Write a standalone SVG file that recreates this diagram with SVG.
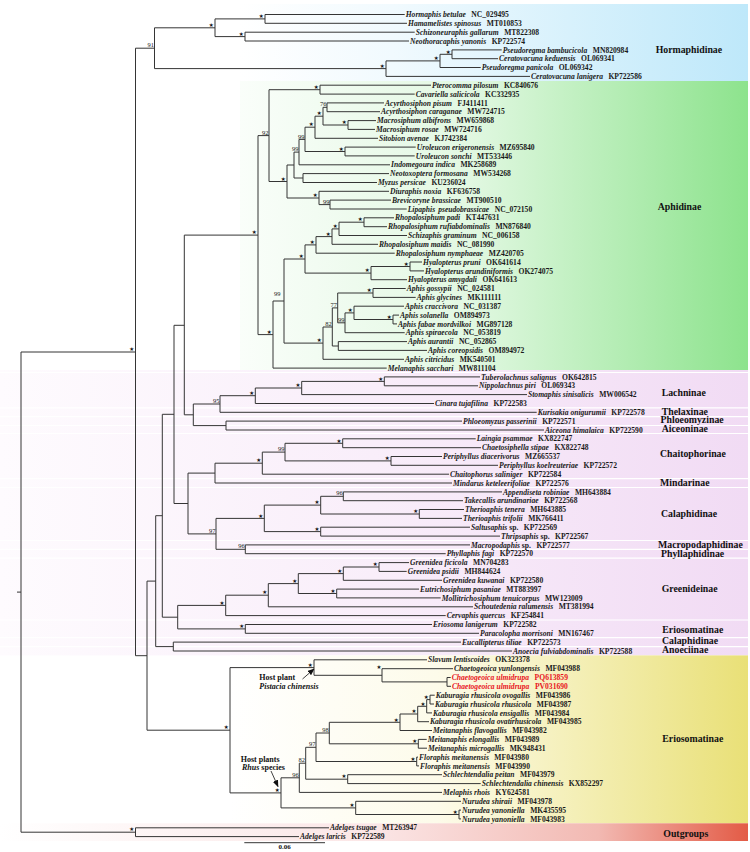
<svg xmlns="http://www.w3.org/2000/svg" width="750" height="852" viewBox="0 0 750 852">
<style>
.br{fill:none;stroke:#353535;stroke-width:1}
.lf{font-family:"Liberation Serif","Times New Roman",serif;font-size:7.6px;font-weight:bold;fill:#1a1a1a}
.sp{font-style:italic}
.red{fill:#e8141c}
.st{font-family:"DejaVu Sans",sans-serif;font-size:5.5px;fill:#111;text-anchor:middle}
.bs{font-family:"Liberation Serif","Times New Roman",serif;font-size:6.5px;fill:#222;text-anchor:end}
.sf{font-family:"Liberation Serif","Times New Roman",serif;font-size:9.8px;font-weight:bold;fill:#111}
.sep{stroke:#ffffff;stroke-width:1.2}
.an{font-family:"Liberation Serif","Times New Roman",serif;font-size:8px;font-weight:bold;fill:#111}
.ar{stroke:#111;stroke-width:0.8;fill:none}
</style>
<defs>
<linearGradient id="gBlue" gradientUnits="userSpaceOnUse" x1="240" y1="0" x2="748" y2="0">
<stop offset="0" stop-color="#ffffff"/><stop offset="0.3" stop-color="#f1fafe"/><stop offset="1" stop-color="#bee8fa"/>
</linearGradient>
<linearGradient id="gGreen" gradientUnits="userSpaceOnUse" x1="240" y1="0" x2="748" y2="0">
<stop offset="0" stop-color="#fafefa"/><stop offset="0.45" stop-color="#e2f8e2"/><stop offset="1" stop-color="#8de38d"/>
</linearGradient>
<linearGradient id="gPink" gradientUnits="userSpaceOnUse" x1="0" y1="0" x2="748" y2="0">
<stop offset="0" stop-color="#fefbfe"/><stop offset="0.5" stop-color="#f9eefa"/><stop offset="1" stop-color="#f1dbf4"/>
</linearGradient>
<linearGradient id="gYellow" gradientUnits="userSpaceOnUse" x1="230" y1="0" x2="748" y2="0">
<stop offset="0" stop-color="#ffffff"/><stop offset="0.4" stop-color="#fdfbea"/><stop offset="1" stop-color="#e9e077"/>
</linearGradient>
<linearGradient id="gRed" gradientUnits="userSpaceOnUse" x1="0" y1="0" x2="748" y2="0">
<stop offset="0" stop-color="#ffffff"/><stop offset="0.5" stop-color="#fbe6e6"/><stop offset="0.8" stop-color="#f2b9b2"/><stop offset="1" stop-color="#e35b46"/>
</linearGradient>
<marker id="ah" viewBox="0 0 10 8" refX="9" refY="4" markerWidth="7" markerHeight="5.6" markerUnits="userSpaceOnUse" orient="auto">
<path d="M0,0L10,4L0,8Z" fill="#111"/>
</marker>
</defs>
<rect width="750" height="852" fill="#ffffff"/>

<!-- subfamily bands -->
<g id="bands">
<rect x="240" y="4" width="508" height="77" fill="url(#gBlue)"/>
<rect x="240" y="81" width="508" height="289" fill="url(#gGreen)"/>
<rect x="0" y="370" width="748" height="285.4" fill="url(#gPink)"/>
<rect x="230" y="655.4" width="518" height="167.9" fill="url(#gYellow)"/>
<rect x="0" y="823.3" width="748" height="17.7" fill="url(#gRed)"/>
<path class="sep" d="M0,372.5H748 M0,407.9H748 M0,416.7H748 M0,425.5H748 M0,433.5H748 M0,478.6H748 M0,487.5H748 M0,540.5H748 M0,549.3H748 M0,558.2H748 M0,620H748 M0,637.7H748 M0,646.6H748"/>
</g>

<!-- branches -->
<g id="connectors">
<path class="br" d="M17,592.1H21 M21,352V832.2 M21,352H135.5 M21,832.2H135.5
M135.5,827.8V836.6 M135.5,827.8H329 M135.5,836.6H299
M135.5,48.2V655.7 M135.5,48.2H154.5 M135.5,655.7H147"/>
<path class="br" d="M154.5,27.8V68.6 M154.5,27.8H215 M154.5,68.6H386
M215,18.9V36.6 M215,18.9H265 M215,36.6H245
M265,14.5V23.3 M265,14.5H404.7 M265,23.3H407
M245,32.2V41 M245,32.2H414.7 M245,41H409
M386,60.9V76.4 M386,60.9H440 M386,76.4H530
M440,54.3V67.5 M440,54.3H452 M440,67.5H480.7
M452,49.9V58.7 M452,49.9H501.7 M452,58.7H498"/>
<path class="br" d="M147,581.1V730.2 M147,581.1H155.7 M147,730.2H230
M155.7,515.7V646.6 M155.7,515.7H162.3 M155.7,646.6H173.3
M173.3,642.1V651 M173.3,642.1H461 M173.3,651H512
M162.3,414.3V617.2 M162.3,414.3H174 M162.3,617.2H177.7
M174,325.3V503.5 M174,325.3H184.3 M174,503.5H188
M184.3,235.1V414.8 M184.3,235.1H258 M184.3,414.8H193.3"/>
<path class="br" d="M258,135.6V334.6 M258,135.6H269 M258,334.6H273
M269,89.7V181.5 M269,89.7H320 M269,181.5H287
M320,85.2V94.1 M320,85.2H431 M320,94.1H414.7
M287,165V198 M287,165H294 M287,198H319
M294,152.1V178 M294,152.1H299 M294,178H303
M299,139.4V164.8 M299,139.4H305 M299,164.8H390
M305,127.2V151.5 M305,127.2H315 M305,151.5H345
M315,116.2V138.3 M315,116.2H323 M315,138.3H378
M323,107.3V125 M323,107.3H327 M323,125H348
M327,102.9V111.7 M327,102.9H384 M327,111.7H380
M348,120.6V129.4 M348,120.6H376 M348,129.4H375
M345,147.1V155.9 M345,147.1H415.7 M345,155.9H414.7
M303,173.6V182.5 M303,173.6H389 M303,182.5H377
M319,191.3V204.6 M319,191.3H389 M319,204.6H330
M330,200.1V209 M330,200.1H391 M330,209H406.7"/>
<path class="br" d="M273,301V368.1 M273,301H284 M273,368.1H386.7
M284,259V343.1 M284,259H305 M284,343.1H323
M305,244.9V273.1 M305,244.9H316 M305,273.1H371
M316,236.6V253.2 M316,236.6H332 M316,253.2H394.7
M332,228.9V244.3 M332,228.9H339 M332,244.3H378
M339,222.2V235.5 M339,222.2H364 M339,235.5H407
M364,217.8V226.7 M364,217.8H394 M364,226.7H387
M371,266.5V279.7 M371,266.5H410 M371,279.7H407
M410,262V270.9 M410,262H422 M410,270.9H424
M323,327V359.3 M323,327H332.3 M323,359.3H404
M332.3,307.9V346 M332.3,307.9H337.7 M332.3,346H338.3
M338.3,341.6V350.4 M338.3,341.6H407 M338.3,350.4H427
M337.7,293V322.8 M337.7,293H373 M337.7,322.8H345
M373,288.5V297.4 M373,288.5H405.7 M373,297.4H415.7
M345,312.9V332.7 M345,312.9H354 M345,332.7H404.7
M354,306.2V319.5 M354,306.2H404 M354,319.5H393
M393,315.1V323.9 M393,315.1H399 M393,323.9H397"/>
<path class="br" d="M193.3,404V425.6 M193.3,404H220 M193.3,425.6H226
M220,395.7V412.3 M220,395.7H255.3 M220,412.3H536.7
M255.3,388V403.5 M255.3,388H301.7 M255.3,403.5H434
M301.7,381.4V394.6 M301.7,381.4H384.3 M301.7,394.6H527
M384.3,376.9V385.8 M384.3,376.9H480 M384.3,385.8H478
M226,421.1V430 M226,421.1H462 M226,430H544"/>
<path class="br" d="M188,473.1V533.9 M188,473.1H215 M188,533.9H216
M215,463.2V483 M215,463.2H262.3 M215,483H452
M262.3,452.1V474.2 M262.3,452.1H285 M262.3,474.2H449
M285,443.3V460.9 M285,443.3H342.7 M285,460.9H391
M342.7,438.8V447.7 M342.7,438.8H475.7 M342.7,447.7H481
M391,456.5V465.3 M391,456.5H442 M391,465.3H498
M216,518.4V549.3 M216,518.4H264.3 M216,549.3H245.3
M264.3,505.1V531.6 M264.3,505.1H320.7 M264.3,531.6H320.7
M320.7,496.3V514 M320.7,496.3H343.3 M320.7,514H419.3
M343.3,491.9V500.7 M343.3,491.9H502 M343.3,500.7H463
M419.3,509.5V518.4 M419.3,509.5H464 M419.3,518.4H462
M320.7,527.2V536.1 M320.7,527.2H470 M320.7,536.1H500
M245.3,544.9V553.7 M245.3,544.9H470 M245.3,553.7H445.7"/>
<path class="br" d="M177.7,605.4V628.9 M177.7,605.4H225.7 M177.7,628.9H245.3
M225.7,595.2V615.6 M225.7,595.2H268.3 M225.7,615.6H445.7
M268.3,583.6V606.8 M268.3,583.6H298.3 M268.3,606.8H473
M298.3,573.6V593.5 M298.3,573.6H343.3 M298.3,593.5H336.7
M343.3,567V580.3 M343.3,567H379 M343.3,580.3H442
M379,562.6V571.4 M379,562.6H409 M379,571.4H406.7
M336.7,589.1V597.9 M336.7,589.1H419 M336.7,597.9H440.7
M245.3,624.5V633.3 M245.3,624.5H432 M245.3,633.3H479"/>
<path class="br" d="M230,667.6V792.9 M230,667.6H314 M230,792.9H281
M314,659.8V675.3 M314,659.8H427 M314,675.3H382
M382,668.7V681.9 M382,668.7H453 M382,681.9H447
M447,677.5V686.3 M447,677.5H450.7 M447,686.3H451
M281,777.8V807.9 M281,777.8H299.3 M281,807.9H355.7
M299.3,763.2V792.4 M299.3,763.2H305.7 M299.3,792.4H442
M305.7,747.3V779.2 M305.7,747.3H316 M305.7,779.2H347.7
M316,733V761.5 M316,733H329.3 M316,761.5H416.7
M329.3,722.3V743.8 M329.3,722.3H400 M329.3,743.8H418.3
M400,714V730.5 M400,714H417.7 M400,730.5H432
M417.7,706.3V721.7 M417.7,706.3H426.7 M417.7,721.7H429
M426.7,699.6V712.9 M426.7,699.6H430 M426.7,712.9H432
M430,695.2V704 M430,695.2H434.7 M430,704H434
M418.3,739.4V748.2 M418.3,739.4H426.7 M418.3,748.2H427
M416.7,757.1V765.9 M416.7,757.1H418 M416.7,765.9H419
M347.7,774.7V783.6 M347.7,774.7H442 M347.7,783.6H480.7
M355.7,801.3V814.5 M355.7,801.3H461 M355.7,814.5H459
M459,810.1V818.9 M459,810.1H461 M459,818.9H461"/>
</g>

<!-- support values: stars = 100 -->
<g id="supports">
<text class="st" x="211.3" y="27">★</text>
<text class="st" x="261.3" y="18.1">★</text>
<text class="st" x="241.3" y="35.8">★</text>
<text class="st" x="382.3" y="67.8">★</text>
<text class="st" x="436.3" y="60.1">★</text>
<text class="st" x="448.3" y="53.5">★</text>
<text class="st" x="131.8" y="351.2">★</text>
<text class="st" x="131.8" y="831.4">★</text>
<text class="st" x="316.3" y="88.9">★</text>
<text class="st" x="344.3" y="124.2">★</text>
<text class="st" x="319.3" y="115.4">★</text>
<text class="st" x="311.3" y="126.4">★</text>
<text class="st" x="341.3" y="150.7">★</text>
<text class="st" x="315.3" y="197.2">★</text>
<text class="st" x="283.3" y="180.7">★</text>
<text class="st" x="254.3" y="234.3">★</text>
<text class="st" x="360.3" y="221.4">★</text>
<text class="st" x="335.3" y="228.1">★</text>
<text class="st" x="328.3" y="235.8">★</text>
<text class="st" x="312.3" y="244.1">★</text>
<text class="st" x="406.3" y="265.7">★</text>
<text class="st" x="367.3" y="272.3">★</text>
<text class="st" x="301.3" y="258.2">★</text>
<text class="st" x="369.3" y="292.2">★</text>
<text class="st" x="350.3" y="312.1">★</text>
<text class="st" x="389.3" y="318.7">★</text>
<text class="st" x="319.3" y="342.3">★</text>
<text class="st" x="269.3" y="333.8">★</text>
<text class="st" x="380.6" y="380.6">★</text>
<text class="st" x="298" y="387.2">★</text>
<text class="st" x="251.6" y="394.9">★</text>
<text class="st" x="339" y="442.5">★</text>
<text class="st" x="387.3" y="460.1">★</text>
<text class="st" x="258.6" y="462.4">★</text>
<text class="st" x="317" y="504.3">★</text>
<text class="st" x="415.6" y="513.2">★</text>
<text class="st" x="260.6" y="517.6">★</text>
<text class="st" x="317" y="530.8">★</text>
<text class="st" x="375.3" y="566.2">★</text>
<text class="st" x="339.6" y="572.8">★</text>
<text class="st" x="333" y="592.7">★</text>
<text class="st" x="294.6" y="582.8">★</text>
<text class="st" x="264.6" y="594.4">★</text>
<text class="st" x="222" y="604.6">★</text>
<text class="st" x="241.6" y="628.1">★</text>
<text class="st" x="226.3" y="729.4">★</text>
<text class="st" x="310.3" y="666.8">★</text>
<text class="st" x="379" y="669">★</text>
<text class="st" x="426.3" y="698.8">★</text>
<text class="st" x="423" y="705.5">★</text>
<text class="st" x="414" y="713.2">★</text>
<text class="st" x="396.3" y="721.5">★</text>
<text class="st" x="414.6" y="743">★</text>
<text class="st" x="413" y="760.7">★</text>
<text class="st" x="344" y="778.4">★</text>
<text class="st" x="277.3" y="792.1">★</text>
<text class="st" x="352" y="807.1">★</text>
<text class="st" x="455.3" y="813.7">★</text>
<text class="bs" x="153.9" y="47.3">91</text>
<text class="bs" x="326.4" y="106.4">76</text>
<text class="bs" x="304.4" y="138.5">99</text>
<text class="bs" x="298.4" y="151.2">99</text>
<text class="bs" x="329.4" y="203.7">99</text>
<text class="bs" x="268.4" y="134.7">92</text>
<text class="bs" x="280.6" y="295.5">99</text>
<text class="bs" x="337.1" y="307">77</text>
<text class="bs" x="344.4" y="321.9">99</text>
<text class="bs" x="331.7" y="326.1">82</text>
<text class="bs" x="219.4" y="403.1">95</text>
<text class="bs" x="284.4" y="451.2">99</text>
<text class="bs" x="342.7" y="495.4">96</text>
<text class="bs" x="215.4" y="533">97</text>
<text class="bs" x="244.7" y="548.4">96</text>
<text class="bs" x="328.7" y="732.1">98</text>
<text class="bs" x="315.4" y="746.4">97</text>
<text class="bs" x="305.1" y="762.3">82</text>
<text class="bs" x="298.7" y="776.9">96</text>
</g>

<!-- terminal taxa -->
<g id="tip-hormaphis-betulae"><text class="lf" x="405.7" y="17.1"><tspan class="sp">Hormaphis betulae</tspan><tspan dx="5.5">NC_029495</tspan></text></g>
<g id="tip-hamamelistes-spinosus"><text class="lf" x="408" y="25.9"><tspan class="sp">Hamamelistes spinosus</tspan><tspan dx="5.5">MT010853</tspan></text></g>
<g id="tip-schizoneuraphis-gallarum"><text class="lf" x="415.7" y="34.8"><tspan class="sp">Schizoneuraphis gallarum</tspan><tspan dx="5.5">MT822308</tspan></text></g>
<g id="tip-neothoracaphis-yanonis"><text class="lf" x="410" y="43.6"><tspan class="sp">Neothoracaphis yanonis</tspan><tspan dx="5.5">KP722574</tspan></text></g>
<g id="tip-pseudoregma-bambucicola"><text class="lf" x="502.7" y="52.5"><tspan class="sp">Pseudoregma bambucicola</tspan><tspan dx="5.5">MN820984</tspan></text></g>
<g id="tip-ceratovacuna-keduensis"><text class="lf" x="499" y="61.3"><tspan class="sp">Ceratovacuna keduensis</tspan><tspan dx="5.5">OL069341</tspan></text></g>
<g id="tip-pseudoregma-panicola"><text class="lf" x="481.7" y="70.1"><tspan class="sp">Pseudoregma panicola</tspan><tspan dx="5.5">OL069342</tspan></text></g>
<g id="tip-ceratovacuna-lanigera"><text class="lf" x="531" y="79"><tspan class="sp">Ceratovacuna lanigera</tspan><tspan dx="5.5">KP722586</tspan></text></g>
<g id="tip-pterocomma-pilosum"><text class="lf" x="432" y="87.8"><tspan class="sp">Pterocomma pilosum</tspan><tspan dx="5.5">KC840676</tspan></text></g>
<g id="tip-cavariella-salicicola"><text class="lf" x="415.7" y="96.7"><tspan class="sp">Cavariella salicicola</tspan><tspan dx="5.5">KC332935</tspan></text></g>
<g id="tip-acyrthosiphon-pisum"><text class="lf" x="385" y="105.5"><tspan class="sp">Acyrthosiphon pisum</tspan><tspan dx="5.5">FJ411411</tspan></text></g>
<g id="tip-acyrthosiphon-caraganae"><text class="lf" x="381" y="114.3"><tspan class="sp">Acyrthosiphon caraganae</tspan><tspan dx="5.5">MW724715</tspan></text></g>
<g id="tip-macrosiphum-albifrons"><text class="lf" x="377" y="123.2"><tspan class="sp">Macrosiphum albifrons</tspan><tspan dx="5.5">MW659868</tspan></text></g>
<g id="tip-macrosiphum-rosae"><text class="lf" x="376" y="132"><tspan class="sp">Macrosiphum rosae</tspan><tspan dx="5.5">MW724716</tspan></text></g>
<g id="tip-sitobion-avenae"><text class="lf" x="379" y="140.9"><tspan class="sp">Sitobion avenae</tspan><tspan dx="5.5">KJ742384</tspan></text></g>
<g id="tip-uroleucon-erigeronensis"><text class="lf" x="416.7" y="149.7"><tspan class="sp">Uroleucon erigeronensis</tspan><tspan dx="5.5">MZ695840</tspan></text></g>
<g id="tip-uroleucon-sonchi"><text class="lf" x="415.7" y="158.5"><tspan class="sp">Uroleucon sonchi</tspan><tspan dx="5.5">MT533446</tspan></text></g>
<g id="tip-indomegoura-indica"><text class="lf" x="391" y="167.4"><tspan class="sp">Indomegoura indica</tspan><tspan dx="5.5">MK258689</tspan></text></g>
<g id="tip-neotoxoptera-formosana"><text class="lf" x="390" y="176.2"><tspan class="sp">Neotoxoptera formosana</tspan><tspan dx="5.5">MW534268</tspan></text></g>
<g id="tip-myzus-persicae"><text class="lf" x="378" y="185.1"><tspan class="sp">Myzus persicae</tspan><tspan dx="5.5">KU236024</tspan></text></g>
<g id="tip-diuraphis-noxia"><text class="lf" x="390" y="193.9"><tspan class="sp">Diuraphis noxia</tspan><tspan dx="5.5">KF636758</tspan></text></g>
<g id="tip-brevicoryne-brassicae"><text class="lf" x="392" y="202.7"><tspan class="sp">Brevicoryne brassicae</tspan><tspan dx="5.5">MT900510</tspan></text></g>
<g id="tip-lipaphis-pseudobrassicae"><text class="lf" x="407.7" y="211.6"><tspan class="sp">Lipaphis</tspan><tspan class="sp" dx="3">pseudobrassicae</tspan><tspan dx="5.5">NC_072150</tspan></text></g>
<g id="tip-rhopalosiphum-padi"><text class="lf" x="395" y="220.4"><tspan class="sp">Rhopalosiphum padi</tspan><tspan dx="5.5">KT447631</tspan></text></g>
<g id="tip-rhopalosiphum-rufiabdominalis"><text class="lf" x="388" y="229.3"><tspan class="sp">Rhopalosiphum rufiabdominalis</tspan><tspan dx="5.5">MN876840</tspan></text></g>
<g id="tip-schizaphis-graminum"><text class="lf" x="408" y="238.1"><tspan class="sp">Schizaphis graminum</tspan><tspan dx="5.5">NC_006158</tspan></text></g>
<g id="tip-rhopalosiphum-maidis"><text class="lf" x="379" y="246.9"><tspan class="sp">Rhopalosiphum maidis</tspan><tspan dx="5.5">NC_081990</tspan></text></g>
<g id="tip-rhopalosiphum-nymphaeae"><text class="lf" x="395.7" y="255.8"><tspan class="sp">Rhopalosiphum nymphaeae</tspan><tspan dx="5.5">MZ420705</tspan></text></g>
<g id="tip-hyalopterus-pruni"><text class="lf" x="423" y="264.6"><tspan class="sp">Hyalopterus pruni</tspan><tspan dx="5.5">OK641614</tspan></text></g>
<g id="tip-hyalopterus-arundiniformis"><text class="lf" x="425" y="273.5"><tspan class="sp">Hyalopterus arundiniformis</tspan><tspan dx="5.5">OK274075</tspan></text></g>
<g id="tip-hyalopterus-amygdali"><text class="lf" x="408" y="282.3"><tspan class="sp">Hyalopterus amygdali</tspan><tspan dx="5.5">OK641613</tspan></text></g>
<g id="tip-aphis-gossypii"><text class="lf" x="406.7" y="291.1"><tspan class="sp">Aphis gossypii</tspan><tspan dx="5.5">NC_024581</tspan></text></g>
<g id="tip-aphis-glycines"><text class="lf" x="416.7" y="300"><tspan class="sp">Aphis glycines</tspan><tspan dx="5.5">MK111111</tspan></text></g>
<g id="tip-aphis-craccivora"><text class="lf" x="405" y="308.8"><tspan class="sp">Aphis craccivora</tspan><tspan dx="5.5">NC_031387</tspan></text></g>
<g id="tip-aphis-solanella"><text class="lf" x="400" y="317.7"><tspan class="sp">Aphis solanella</tspan><tspan dx="5.5">OM894973</tspan></text></g>
<g id="tip-aphis-fabae-mordvilkoi"><text class="lf" x="398" y="326.5"><tspan class="sp">Aphis fabae mordvilkoi</tspan><tspan dx="5.5">MG897128</tspan></text></g>
<g id="tip-aphis-spiraecola"><text class="lf" x="405.7" y="335.3"><tspan class="sp">Aphis spiraecola</tspan><tspan dx="5.5">NC_053819</tspan></text></g>
<g id="tip-aphis-aurantii"><text class="lf" x="408" y="344.2"><tspan class="sp">Aphis aurantii</tspan><tspan dx="5.5">NC_052865</tspan></text></g>
<g id="tip-aphis-coreopsidis"><text class="lf" x="428" y="353"><tspan class="sp">Aphis coreopsidis</tspan><tspan dx="5.5">OM894972</tspan></text></g>
<g id="tip-aphis-citricidus"><text class="lf" x="405" y="361.9"><tspan class="sp">Aphis citricidus</tspan><tspan dx="5.5">MK540501</tspan></text></g>
<g id="tip-melanaphis-sacchari"><text class="lf" x="387.7" y="370.7"><tspan class="sp">Melanaphis sacchari</tspan><tspan dx="5.5">MW811104</tspan></text></g>
<g id="tip-tuberolachnus-salignus"><text class="lf" x="481" y="379.5"><tspan class="sp">Tuberolachnus salignus</tspan><tspan dx="5.5">OK642815</tspan></text></g>
<g id="tip-nippolachnus-piri"><text class="lf" x="479" y="388.4"><tspan class="sp">Nippolachnus piri</tspan><tspan dx="5.5">OL069343</tspan></text></g>
<g id="tip-stomaphis-sinisalicis"><text class="lf" x="528" y="397.2"><tspan class="sp">Stomaphis sinisalicis</tspan><tspan dx="5.5">MW006542</tspan></text></g>
<g id="tip-cinara-tujafilina"><text class="lf" x="435" y="406.1"><tspan class="sp">Cinara tujafilina</tspan><tspan dx="5.5">KP722583</tspan></text></g>
<g id="tip-kurisakia-onigurumii"><text class="lf" x="537.7" y="414.9"><tspan class="sp">Kurisakia onigurumii</tspan><tspan dx="5.5">KP722578</tspan></text></g>
<g id="tip-phloeomyzus-passerinii"><text class="lf" x="463" y="423.7"><tspan class="sp">Phloeomyzus passerinii</tspan><tspan dx="5.5">KP722571</tspan></text></g>
<g id="tip-aiceona-himalaica"><text class="lf" x="545" y="432.6"><tspan class="sp">Aiceona himalaica</tspan><tspan dx="5.5">KP722590</tspan></text></g>
<g id="tip-laingia-psammae"><text class="lf" x="476.7" y="441.4"><tspan class="sp">Laingia psammae</tspan><tspan dx="5.5">KX822747</tspan></text></g>
<g id="tip-chaetosiphella-stipae"><text class="lf" x="482" y="450.3"><tspan class="sp">Chaetosiphella stipae</tspan><tspan dx="5.5">KX822748</tspan></text></g>
<g id="tip-periphyllus-diacerivorus"><text class="lf" x="443" y="459.1"><tspan class="sp">Periphyllus diacerivorus</tspan><tspan dx="5.5">MZ665537</tspan></text></g>
<g id="tip-periphyllus-koelreuteriae"><text class="lf" x="499" y="467.9"><tspan class="sp">Periphyllus koelreuteriae</tspan><tspan dx="5.5">KP722572</tspan></text></g>
<g id="tip-chaitophorus-saliniger"><text class="lf" x="450" y="476.8"><tspan class="sp">Chaitophorus saliniger</tspan><tspan dx="5.5">KP722584</tspan></text></g>
<g id="tip-mindarus-keteleerifoliae"><text class="lf" x="453" y="485.6"><tspan class="sp">Mindarus keteleerifoliae</tspan><tspan dx="5.5">KP722576</tspan></text></g>
<g id="tip-appendiseta-robiniae"><text class="lf" x="503" y="494.5"><tspan class="sp">Appendiseta robiniae</tspan><tspan dx="5.5">MH643884</tspan></text></g>
<g id="tip-takecallis-arundinariae"><text class="lf" x="464" y="503.3"><tspan class="sp">Takecallis arundinariae</tspan><tspan dx="5.5">KP722568</tspan></text></g>
<g id="tip-therioaphis-tenera"><text class="lf" x="465" y="512.1"><tspan class="sp">Therioaphis tenera</tspan><tspan dx="5.5">MH643885</tspan></text></g>
<g id="tip-therioaphis-trifolii"><text class="lf" x="463" y="521"><tspan class="sp">Therioaphis trifolii</tspan><tspan dx="5.5">MK766411</tspan></text></g>
<g id="tip-saltusaphis-sp"><text class="lf" x="471" y="529.8"><tspan class="sp">Saltusaphis</tspan> sp.<tspan dx="5.5">KP722569</tspan></text></g>
<g id="tip-thripsaphis-sp"><text class="lf" x="501" y="538.7"><tspan class="sp">Thripsaphis</tspan> sp.<tspan dx="5.5">KP722567</tspan></text></g>
<g id="tip-macropodaphis-sp"><text class="lf" x="471" y="547.5"><tspan class="sp">Macropodaphis</tspan> sp.<tspan dx="5.5">KP722577</tspan></text></g>
<g id="tip-phyllaphis-fagi"><text class="lf" x="446.7" y="556.3"><tspan class="sp">Phyllaphis fagi</tspan><tspan dx="5.5">KP722570</tspan></text></g>
<g id="tip-greenidea-ficicola"><text class="lf" x="410" y="565.2"><tspan class="sp">Greenidea ficicola</tspan><tspan dx="5.5">MN704283</tspan></text></g>
<g id="tip-greenidea-psidii"><text class="lf" x="407.7" y="574"><tspan class="sp">Greenidea psidii</tspan><tspan dx="5.5">MH844624</tspan></text></g>
<g id="tip-greenidea-kuwanai"><text class="lf" x="443" y="582.9"><tspan class="sp">Greenidea kuwanai</tspan><tspan dx="5.5">KP722580</tspan></text></g>
<g id="tip-eutrichosiphum-pasaniae"><text class="lf" x="420" y="591.7"><tspan class="sp">Eutrichosiphum pasaniae</tspan><tspan dx="5.5">MT883997</tspan></text></g>
<g id="tip-mollitrichosiphum-tenuicorpus"><text class="lf" x="441.7" y="600.5"><tspan class="sp">Mollitrichosiphum tenuicorpus</tspan><tspan dx="5.5">MW123009</tspan></text></g>
<g id="tip-schoutedenia-ralumensis"><text class="lf" x="474" y="609.4"><tspan class="sp">Schoutedenia ralumensis</tspan><tspan dx="5.5">MT381994</tspan></text></g>
<g id="tip-cervaphis-quercus"><text class="lf" x="446.7" y="618.2"><tspan class="sp">Cervaphis quercus</tspan><tspan dx="5.5">KF254841</tspan></text></g>
<g id="tip-eriosoma-lanigerum"><text class="lf" x="433" y="627.1"><tspan class="sp">Eriosoma lanigerum</tspan><tspan dx="5.5">KP722582</tspan></text></g>
<g id="tip-paracolopha-morrisoni"><text class="lf" x="480" y="635.9"><tspan class="sp">Paracolopha morrisoni</tspan><tspan dx="5.5">MN167467</tspan></text></g>
<g id="tip-eucallipterus-tiliae"><text class="lf" x="462" y="644.7"><tspan class="sp">Eucallipterus tiliae</tspan><tspan dx="5.5">KP722573</tspan></text></g>
<g id="tip-anoecia-fulviabdominalis"><text class="lf" x="513" y="653.6"><tspan class="sp">Anoecia fulviabdominalis</tspan><tspan dx="5.5">KP722588</tspan></text></g>
<g id="tip-slavum-lentiscoides"><text class="lf" x="428" y="662.4"><tspan class="sp">Slavum lentiscoides</tspan><tspan dx="5.5">OK323378</tspan></text></g>
<g id="tip-chaetogeoica-yunlongensis"><text class="lf" x="454" y="671.3"><tspan class="sp">Chaetogeoica yunlongensis</tspan><tspan dx="5.5">MF043988</tspan></text></g>
<g id="tip-chaetogeoica-ulmidrupa-pq"><text class="lf red" x="451.7" y="680.1"><tspan class="sp">Chaetogeoica ulmidrupa</tspan><tspan dx="5.5">PQ613859</tspan></text></g>
<g id="tip-chaetogeoica-ulmidrupa-pv"><text class="lf red" x="452" y="688.9"><tspan class="sp">Chaetogeoica ulmidrupa</tspan><tspan dx="5.5">PV031690</tspan></text></g>
<g id="tip-kaburagia-ovogallis"><text class="lf" x="435.7" y="697.8"><tspan class="sp">Kaburagia rhusicola ovogallis</tspan><tspan dx="5.5">MF043986</tspan></text></g>
<g id="tip-kaburagia-rhusicola"><text class="lf" x="435" y="706.6"><tspan class="sp">Kaburagia rhusicola rhusicola</tspan><tspan dx="5.5">MF043987</tspan></text></g>
<g id="tip-kaburagia-ensigallis"><text class="lf" x="433" y="715.5"><tspan class="sp">Kaburagia rhusicola ensigallis</tspan><tspan dx="5.5">MF043984</tspan></text></g>
<g id="tip-kaburagia-ovatirhusicola"><text class="lf" x="430" y="724.3"><tspan class="sp">Kaburagia rhusicola ovatirhusicola</tspan><tspan dx="5.5">MF043985</tspan></text></g>
<g id="tip-meitanaphis-flavogallis"><text class="lf" x="433" y="733.1"><tspan class="sp">Meitanaphis flavogallis</tspan><tspan dx="5.5">MF043982</tspan></text></g>
<g id="tip-meitanaphis-elongallis"><text class="lf" x="427.7" y="742"><tspan class="sp">Meitanaphis elongallis</tspan><tspan dx="5.5">MF043989</tspan></text></g>
<g id="tip-meitanaphis-microgallis"><text class="lf" x="428" y="750.8"><tspan class="sp">Meitanaphis microgallis</tspan><tspan dx="5.5">MK948431</tspan></text></g>
<g id="tip-floraphis-meitanensis-1"><text class="lf" x="419" y="759.7"><tspan class="sp">Floraphis meitanensis</tspan><tspan dx="5.5">MF043980</tspan></text></g>
<g id="tip-floraphis-meitanensis-2"><text class="lf" x="420" y="768.5"><tspan class="sp">Floraphis meitanensis</tspan><tspan dx="5.5">MF043990</tspan></text></g>
<g id="tip-schlechtendalia-peitan"><text class="lf" x="443" y="777.3"><tspan class="sp">Schlechtendalia peitan</tspan><tspan dx="5.5">MF043979</tspan></text></g>
<g id="tip-schlechtendalia-chinensis"><text class="lf" x="481.7" y="786.2"><tspan class="sp">Schlechtendalia chinensis</tspan><tspan dx="5.5">KX852297</tspan></text></g>
<g id="tip-melaphis-rhois"><text class="lf" x="443" y="795"><tspan class="sp">Melaphis rhois</tspan><tspan dx="5.5">KY624581</tspan></text></g>
<g id="tip-nurudea-shiraii"><text class="lf" x="462" y="803.9"><tspan class="sp">Nurudea shiraii</tspan><tspan dx="5.5">MF043978</tspan></text></g>
<g id="tip-nurudea-yanoniella-1"><text class="lf" x="462" y="812.7"><tspan class="sp">Nurudea yanoniella</tspan><tspan dx="5.5">MK435595</tspan></text></g>
<g id="tip-nurudea-yanoniella-2"><text class="lf" x="462" y="821.5"><tspan class="sp">Nurudea yanoniella</tspan><tspan dx="5.5">MF043983</tspan></text></g>
<g id="tip-adelges-tsugae"><text class="lf" x="330" y="830.4"><tspan class="sp">Adelges tsugae</tspan><tspan dx="5.5">MT263947</tspan></text></g>
<g id="tip-adelges-laricis"><text class="lf" x="300" y="839.2"><tspan class="sp">Adelges laricis</tspan><tspan dx="5.5">KP722589</tspan></text></g>

<!-- subfamily names -->
<g id="subfamilies">
<text class="sf" x="655.7" y="52.7">Hormaphidinae</text>
<text class="sf" x="657.7" y="210">Aphidinae</text>
<text class="sf" x="661.7" y="395.5">Lachninae</text>
<text class="sf" x="661.7" y="414.6">Thelaxinae</text>
<text class="sf" x="660.5" y="423.4">Phloeomyzinae</text>
<text class="sf" x="661.7" y="432.2">Aiceoninae</text>
<text class="sf" x="660" y="457.4">Chaitophorinae</text>
<text class="sf" x="660" y="485.8">Mindarinae</text>
<text class="sf" x="661" y="516.6">Calaphidinae</text>
<text class="sf" x="658" y="548.2">Macropodaphidinae</text>
<text class="sf" x="661" y="557.4">Phyllaphidinae</text>
<text class="sf" x="661.7" y="592.4">Greenideinae</text>
<text class="sf" x="662.3" y="633">Eriosomatinae</text>
<text class="sf" x="662" y="644.4">Calaphidinae</text>
<text class="sf" x="662" y="653.4">Anoeciinae</text>
<text class="sf" x="662.3" y="742.2">Eriosomatinae</text>
<text class="sf" x="663.3" y="836.6">Outgroups</text>
</g>

<!-- host plant notes -->
<g id="note-pistacia">
<text class="an" x="259.3" y="680">Host plant</text>
<text class="an sp" x="259.3" y="688.6">Pistacia chinensis</text>
<path class="ar" d="M302.5,679L314,669" marker-end="url(#ah)"/>
</g>
<g id="note-rhus">
<text class="an" x="240.7" y="762.3">Host plants</text>
<text class="an" x="242" y="770.2"><tspan class="sp">Rhus</tspan> species</text>
<path class="ar" d="M271,771L278,786.5" marker-end="url(#ah)"/>
</g>

<!-- scale bar -->
<g id="scale">
<path class="br" d="M244.3,842.7H325"/>
<text class="an" x="284.7" y="849.4" text-anchor="middle" style="font-size:7px">0.06</text>
</g>
</svg>
